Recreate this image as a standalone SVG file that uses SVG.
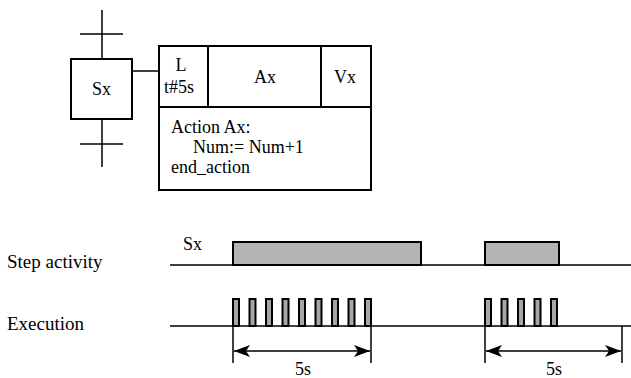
<svg xmlns="http://www.w3.org/2000/svg" width="631" height="378" viewBox="0 0 631 378">
<defs>
<marker id="ah" viewBox="0 0 16 12" refX="16" refY="6" markerWidth="16" markerHeight="12" markerUnits="userSpaceOnUse" orient="auto-start-reverse">
<path d="M0,0 L16,6 L0,12 L4,6 Z" fill="#000"/>
</marker>
</defs>
<rect width="631" height="378" fill="#fff"/>

<g id="connectors" stroke="#000" stroke-width="1.5" fill="none">
<line x1="102" y1="10" x2="102" y2="59"/>
<line x1="80" y1="34" x2="123" y2="34"/>
<line x1="102" y1="119" x2="102" y2="167"/>
<line x1="80" y1="144" x2="123" y2="144"/>
<line x1="132" y1="71" x2="159" y2="71"/>
</g>

<g id="step-Sx">
<rect x="71" y="59" width="61" height="60" fill="#fff" stroke="#000" stroke-width="2"/>
<text x="101.5" y="95" text-anchor="middle" font-family="Times New Roman, Liberation Serif, serif" font-size="18">Sx</text>
</g>

<g id="action-block">
<rect x="159" y="46" width="212" height="144" fill="#fff" stroke="#000" stroke-width="2"/>
<path d="M159,107H371M208,46V107M321,46V107" stroke="#000" stroke-width="2" fill="none"/>
<text x="181" y="71" text-anchor="middle" font-family="Times New Roman, Liberation Serif, serif" font-size="18">L</text>
<text x="179" y="93" text-anchor="middle" font-family="Times New Roman, Liberation Serif, serif" font-size="18">t#5s</text>
<text x="265" y="83" text-anchor="middle" font-family="Times New Roman, Liberation Serif, serif" font-size="18">Ax</text>
<text x="345" y="83" text-anchor="middle" font-family="Times New Roman, Liberation Serif, serif" font-size="18">Vx</text>
<text x="171" y="133" font-family="Times New Roman, Liberation Serif, serif" font-size="18">Action Ax:</text>
<text x="193" y="153" font-family="Times New Roman, Liberation Serif, serif" font-size="18">Num:= Num+1</text>
<text x="171" y="173" font-family="Times New Roman, Liberation Serif, serif" font-size="18">end_action</text>
</g>

<g id="labels">
<text x="7" y="268" font-family="Times New Roman, Liberation Serif, serif" font-size="19">Step activity</text>
<text x="7" y="330" font-family="Times New Roman, Liberation Serif, serif" font-size="19">Execution</text>
<text x="183" y="250" font-family="Times New Roman, Liberation Serif, serif" font-size="18">Sx</text>
</g>

<g id="step-activity" stroke="#000" stroke-width="2">
<line x1="170" y1="265" x2="631" y2="265" stroke-width="1.5"/>
<rect x="233" y="242" width="188" height="23" fill="#b3b3b3"/>
<rect x="485" y="242" width="74" height="23" fill="#b3b3b3"/>
</g>

<g id="execution" stroke="#000" stroke-width="2" fill="#a6a6a6">
<line x1="170" y1="326" x2="631" y2="326" stroke-width="1.5"/>
<rect x="233" y="299" width="6" height="27"/>
<rect x="249.5" y="299" width="6" height="27"/>
<rect x="266" y="299" width="6" height="27"/>
<rect x="282.5" y="299" width="6" height="27"/>
<rect x="299" y="299" width="6" height="27"/>
<rect x="315.5" y="299" width="6" height="27"/>
<rect x="332" y="299" width="6" height="27"/>
<rect x="348.5" y="299" width="6" height="27"/>
<rect x="365" y="299" width="6" height="27"/>
<rect x="485" y="299" width="6" height="27"/>
<rect x="501.5" y="299" width="6" height="27"/>
<rect x="518" y="299" width="6" height="27"/>
<rect x="534.5" y="299" width="6" height="27"/>
<rect x="551" y="299" width="6" height="27"/>
</g>

<g id="dimensions">
<g stroke="#000" stroke-width="1.5" fill="none">
<line x1="233" y1="326" x2="233" y2="363"/>
<line x1="371" y1="326" x2="371" y2="363"/>
<line x1="234" y1="351" x2="370" y2="351" marker-start="url(#ah)" marker-end="url(#ah)"/>
<line x1="485" y1="326" x2="485" y2="363"/>
<line x1="622" y1="326" x2="622" y2="363"/>
<line x1="486" y1="351" x2="621" y2="351" marker-start="url(#ah)" marker-end="url(#ah)"/>
</g>
<text x="303" y="375" text-anchor="middle" font-family="Times New Roman, Liberation Serif, serif" font-size="18">5s</text>
<text x="554" y="375" text-anchor="middle" font-family="Times New Roman, Liberation Serif, serif" font-size="18">5s</text>
</g>
</svg>
